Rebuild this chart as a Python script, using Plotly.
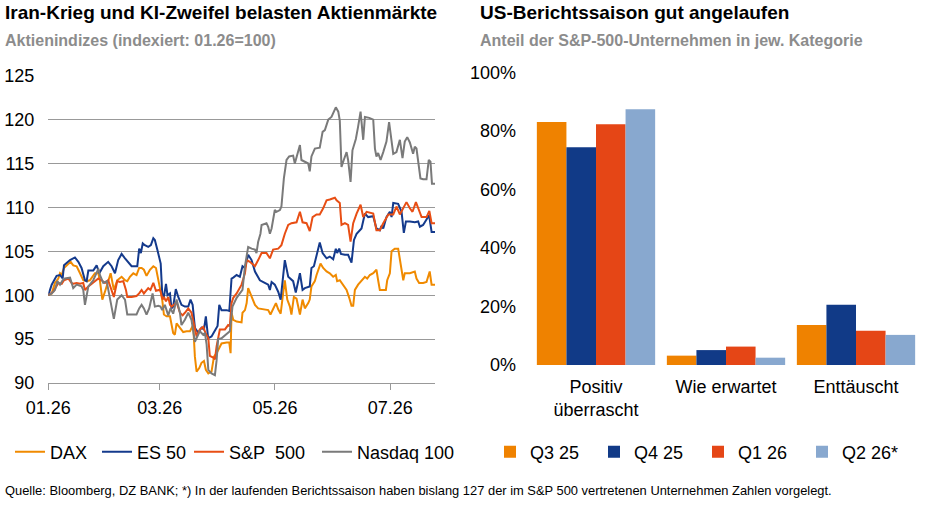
import pandas as pd
import plotly.graph_objects as go

W, H = 941, 506

# ---------------- data: equity indices (indexed 01.26 = 100) ----------------
BASE_DATE = "2026-01-01"   # days are counted from this date

dax_days = [0, 1.8, 3.5, 5.3, 6.2, 7.1, 8.3, 10.6, 11.8, 13.2, 15.0, 16.8, 18.5, 20.3, 22.0, 24.7, 26.5,
            27.3, 28.6, 30.0, 31.7, 33.0, 34.7, 36.5, 38.8, 40.6, 41.8, 43.2, 45.0, 46.7, 48.1, 49.4,
            50.6, 52.0, 53.8, 55.6, 57.0, 58.2, 59.4, 60.3, 61.2, 62.6, 64.4, 65.3, 66.1, 67.0, 67.9,
            69.3, 71.4, 73.2, 75.0, 76.7, 77.6, 78.5, 79.9, 81.1, 82.4, 83.4, 84.7, 86.4, 87.7, 89.1,
            91.7, 94.4, 95.8, 96.5, 97.0, 97.9, 99.7, 102.3, 102.8, 104.1, 105.0, 105.8, 107.6, 109.4,
            111.1, 113.8, 116.4, 117.6, 119.0, 120.5, 121.7, 123.0, 124.3, 125.2, 126.5, 127.9, 128.7,
            130.0, 131.4, 133.2, 134.6, 135.8, 137.6, 138.4, 139.3, 141.1, 142.0, 143.4, 144.1, 145.5,
            147.3, 149.0, 150.8, 152.2, 152.9, 154.3, 156.1, 157.9, 159.3, 160.5, 161.4, 162.3, 164.0,
            165.8, 167.6, 168.8, 170.2, 172.0, 173.7, 174.6, 175.5, 176.9, 178.7, 179.4, 180.8, 181.7,
            183.4, 185.2, 186.1, 187.9, 188.7, 191.4, 194.0, 194.9, 196.3, 198.4, 200.2, 201.9, 202.9,
            204.7]
dax_vals = [100.0, 100.2, 101.4, 101.9, 102.5, 102.3, 103.1, 103.6, 103.8, 103.4, 103.3, 102.5, 101.7,
            101.6, 101.7, 102.5, 102.5, 101.7, 99.5, 100.4, 101.6, 102.5, 100.6, 101.7, 102.1, 101.7,
            101.6, 102.1, 102.5, 102.3, 103.1, 103.1, 102.9, 102.2, 102.9, 103.3, 103.1, 101.7, 100.2,
            99.5, 97.8, 97.6, 97.6, 96.4, 95.7, 95.5, 96.8, 96.4, 95.8, 95.9, 95.9, 96.6, 93.0, 91.3,
            91.7, 92.3, 92.5, 91.5, 91.1, 91.3, 93.0, 93.4, 94.5, 94.6, 94.6, 93.4, 98.0, 97.2, 97.0,
            96.9, 98.0, 98.3, 99.1, 100.8, 99.8, 98.9, 98.5, 98.4, 98.3, 97.8, 98.5, 99.1, 98.4, 97.9,
            100.2, 101.7, 99.5, 98.7, 97.8, 99.8, 99.6, 97.8, 99.5, 98.5, 99.1, 99.5, 101.0, 101.6,
            102.3, 103.1, 103.6, 103.1, 102.7, 102.5, 102.1, 102.3, 101.6, 101.7, 101.2, 100.6, 99.7,
            98.8, 98.8, 100.6, 101.2, 101.6, 102.1, 101.9, 102.3, 102.5, 102.9, 101.7, 100.6, 100.6,
            100.6, 101.7, 102.5, 105.0, 105.3, 105.3, 104.0, 101.7, 102.5, 102.5, 102.7, 101.9, 101.4,
            101.4, 101.5, 102.7, 101.2, 101.2]

es50_days = [0, 1.8, 4.4, 6.2, 7.6, 8.3, 11.5, 14.1, 15.9, 17.6, 19.4, 20.3, 21.2, 23.8, 25.6, 27.0,
             29.1, 31.7, 33.5, 35.3, 37.0, 38.8, 40.6, 42.3, 44.1, 45.9, 47.1, 48.1, 49.0, 50.0, 51.1,
             52.9, 54.3, 55.6, 56.4, 57.7, 59.5, 60.3, 61.2, 62.3, 63.1, 64.4, 65.2, 66.1, 67.5, 68.8,
             70.5, 72.3, 74.1, 75.3, 76.4, 77.6, 79.4, 81.1, 82.4, 83.4, 84.6, 86.4, 88.2, 89.6, 90.5,
             91.7, 94.4, 95.8, 97.0, 97.9, 99.7, 101.4, 102.8, 104.1, 105.8, 107.6, 109.4, 112.0, 114.6,
             116.4, 117.3, 118.2, 119.9, 121.7, 123.0, 125.2, 127.0, 128.7, 129.6, 131.0, 133.2, 134.6,
             135.8, 138.4, 139.3, 140.6, 142.0, 143.7, 145.2, 147.3, 149.0, 150.8, 152.2, 152.9, 154.0,
             154.9, 157.0, 158.7, 160.5, 161.8, 163.2, 165.8, 167.6, 169.3, 172.0, 173.7, 175.5, 176.4,
             177.3, 179.0, 180.8, 181.7, 182.6, 185.2, 187.0, 188.2, 189.3, 191.4, 194.0, 195.8, 196.7,
             198.4, 201.6, 202.9, 204.7]
es50_vals = [100.0, 101.2, 102.2, 102.3, 101.9, 103.4, 104.0, 104.3, 103.8, 103.1, 101.7, 101.6, 102.8,
             102.8, 103.4, 102.5, 103.3, 103.8, 103.3, 102.5, 104.0, 104.7, 104.2, 103.8, 103.3, 103.3,
             103.3, 105.3, 104.8, 105.9, 105.7, 105.5, 105.7, 106.5, 106.3, 105.2, 103.6, 100.2, 99.8,
             101.3, 100.0, 100.2, 98.5, 98.7, 100.7, 99.8, 98.9, 98.7, 98.7, 99.5, 98.9, 96.3, 95.7,
             96.3, 96.1, 97.6, 95.1, 95.3, 95.9, 96.5, 98.9, 98.3, 98.3, 98.2, 101.9, 102.0, 102.3,
             102.1, 103.3, 103.1, 104.6, 104.0, 102.7, 101.7, 101.4, 101.2, 100.6, 101.5, 101.2, 100.4,
             99.5, 104.0, 102.1, 101.7, 101.6, 100.3, 102.5, 100.6, 100.8, 101.0, 103.1, 103.3, 104.6,
             106.0, 104.8, 104.2, 104.4, 104.1, 105.3, 104.8, 105.3, 104.7, 104.6, 104.6, 103.7, 106.3,
             107.0, 107.6, 109.3, 108.9, 109.0, 107.6, 107.4, 107.9, 107.6, 108.9, 109.5, 108.9, 110.5,
             110.4, 109.5, 107.1, 108.4, 108.4, 108.3, 108.4, 107.8, 108.0, 109.1, 107.2, 107.2]

sp500_days = [0, 2.6, 5.3, 7.1, 8.3, 10.6, 12.3, 13.2, 15.0, 16.8, 18.5, 19.4, 21.2, 23.8, 26.5, 28.2,
              30.0, 31.7, 33.5, 34.7, 36.5, 37.9, 39.7, 41.1, 41.8, 44.1, 46.7, 48.1, 49.4, 50.6, 52.9,
              54.1, 55.6, 57.0, 58.7, 59.4, 60.5, 61.2, 62.3, 63.5, 64.4, 65.3, 66.5, 67.9, 69.7, 71.1,
              72.3, 74.1, 75.8, 77.1, 78.5, 80.2, 82.0, 83.4, 84.7, 85.5, 87.3, 88.2, 89.1, 90.8, 93.5,
              95.2, 96.1, 97.0, 97.9, 99.7, 102.3, 104.1, 105.0, 106.7, 109.4, 111.1, 112.9, 115.5,
              117.3, 119.0, 121.7, 123.4, 125.2, 127.0, 128.7, 131.4, 133.2, 134.6, 136.7, 138.4, 139.9,
              142.0, 143.7, 145.5, 147.3, 149.0, 151.7, 152.6, 154.3, 155.2, 157.0, 158.7, 160.0, 161.4,
              163.2, 165.3, 166.7, 168.5, 172.0, 173.7, 175.5, 177.3, 180.0, 182.6, 184.3, 186.1, 187.9,
              189.6, 191.4, 192.8, 194.6, 195.8, 197.6, 200.2, 201.7, 202.9, 204.7]
sp500_vals = [100.0, 100.4, 101.4, 101.3, 101.7, 101.9, 101.4, 101.3, 101.4, 101.3, 101.4, 100.6, 101.0,
              101.4, 101.9, 101.7, 101.4, 101.7, 100.6, 99.8, 101.6, 101.5, 101.6, 100.6, 99.8, 99.8,
              99.9, 100.2, 100.6, 100.2, 100.8, 100.6, 101.4, 100.5, 100.6, 100.5, 99.5, 99.8, 99.3,
              99.8, 98.9, 98.7, 98.9, 99.2, 98.0, 97.7, 98.0, 98.5, 98.0, 96.8, 95.3, 96.1, 96.4, 95.6,
              95.1, 93.1, 92.9, 92.7, 94.2, 96.1, 96.1, 96.6, 96.5, 99.1, 99.7, 100.2, 101.2, 102.5,
              104.0, 103.8, 103.3, 104.0, 104.8, 104.8, 104.2, 105.2, 105.3, 105.7, 107.0, 108.0, 108.2,
              108.3, 109.5, 108.3, 108.2, 107.3, 108.9, 109.2, 109.2, 109.9, 110.8, 110.9, 111.1, 110.8,
              110.5, 108.0, 108.2, 108.0, 106.1, 108.2, 109.3, 110.3, 108.9, 109.5, 109.3, 107.4, 107.4,
              108.2, 109.2, 109.2, 110.1, 109.2, 109.9, 110.6, 109.9, 109.5, 110.6, 109.9, 108.9, 108.9,
              109.6, 108.2, 108.2]

ndx_days = [0, 1.8, 3.5, 4.8, 6.2, 7.6, 8.8, 11.5, 13.2, 15.0, 17.6, 18.5, 19.4, 21.2, 23.8, 26.5, 27.3,
            29.1, 30.9, 32.6, 34.7, 36.5, 38.8, 40.6, 41.8, 44.1, 46.7, 48.1, 49.4, 50.6, 52.0, 53.4,
            55.2, 56.4, 58.2, 59.4, 60.3, 61.7, 63.5, 64.7, 66.1, 67.9, 69.7, 70.5, 72.3, 74.1, 75.8,
            77.6, 78.8, 80.2, 82.0, 82.9, 83.8, 84.7, 86.4, 88.2, 89.1, 89.9, 91.7, 94.0, 96.1, 97.5,
            99.7, 101.4, 102.8, 104.1, 105.8, 107.6, 109.4, 110.2, 111.1, 112.3, 112.9, 115.5, 116.4,
            117.3, 118.2, 119.9, 120.8, 122.6, 123.4, 124.7, 126.1, 127.5, 129.6, 130.5, 131.4, 133.2,
            134.0, 135.8, 137.6, 138.4, 139.3, 141.1, 143.7, 145.2, 146.4, 148.2, 149.9, 152.2, 153.5,
            154.3, 155.2, 156.4, 157.9, 158.7, 160.0, 161.0, 162.8, 164.0, 165.3, 166.7, 167.6, 169.9,
            172.0, 172.9, 173.7, 174.6, 175.9, 177.3, 179.0, 180.4, 181.1, 182.6, 184.3, 186.1, 187.5,
            188.7, 190.0, 191.4, 193.1, 194.0, 194.9, 197.0, 198.4, 200.2, 201.4, 202.3, 203.1, 204.7]
ndx_vals = [100.0, 100.2, 100.6, 101.6, 101.2, 101.7, 101.9, 102.0, 100.8, 101.2, 101.0, 100.6, 98.9,
            101.0, 101.7, 103.0, 102.3, 101.4, 101.6, 99.8, 97.3, 99.5, 100.0, 99.5, 97.8, 97.8, 97.8,
            98.5, 98.9, 98.5, 97.8, 98.5, 100.2, 98.7, 98.8, 98.7, 98.3, 98.9, 97.7, 98.5, 97.9, 99.5,
            98.0, 96.6, 97.2, 98.0, 97.2, 94.7, 95.3, 95.9, 95.5, 95.7, 94.4, 91.5, 91.1, 90.9, 92.6,
            95.0, 95.1, 95.5, 95.9, 98.7, 99.7, 100.2, 100.6, 103.3, 105.5, 105.3, 105.2, 104.8, 106.1,
            107.0, 108.0, 108.2, 107.8, 107.0, 107.6, 109.7, 109.5, 109.7, 110.1, 113.3, 115.4, 115.8,
            115.9, 115.0, 115.8, 117.1, 115.4, 115.2, 115.0, 114.1, 115.8, 116.7, 116.8, 118.6, 118.8,
            120.0, 120.3, 121.4, 120.9, 119.9, 114.6, 115.4, 116.3, 115.4, 112.9, 116.5, 117.8, 119.2,
            120.9, 117.7, 120.3, 120.2, 120.0, 116.7, 115.8, 116.2, 115.4, 116.3, 117.5, 119.7, 118.4,
            116.1, 116.3, 117.7, 115.6, 117.5, 118.0, 117.4, 116.1, 116.9, 116.7, 113.3, 113.2, 113.2,
            115.4, 115.2, 112.7, 112.7]

x_range_days = [0, 204.7]
x_tick_dates = ["2026-01-01", "2026-03-01", "2026-05-01", "2026-07-01"]
y_ticks_idx = [90, 95, 100, 105, 110, 115, 120, 125]

# ---------------- data: US reporting season ----------------
categories = ["Positiv<br>überrascht", "Wie erwartet", "Enttäuscht"]
q3_25 = [83.1, 3.2, 13.7]
q4_25 = [74.5, 5.1, 20.6]
q1_26 = [82.4, 6.3, 11.7]
q2_26 = [87.5, 2.5, 10.3]
y_ticks_pct = [0, 20, 40, 60, 80, 100]
y_ticktext_pct = [f"{v}%" for v in y_ticks_pct]

# ---------------- styling ----------------
FONT = "Liberation Sans, Arial, sans-serif"
C_DAX, C_ES, C_SP, C_NDX = "#F08A00", "#143A8C", "#E84E14", "#7A7A7A"
C_Q3, C_Q4, C_Q1, C_Q2 = "#EF8200", "#113A87", "#E54616", "#88A8CF"
GRID = "#999999"


def px_x(p):
    return p / W


def px_y(p):
    return 1 - p / H


def to_dates(days):
    return pd.Timestamp(BASE_DATE) + pd.to_timedelta(days, unit="D")


fig = go.Figure()

for name, d, v, c, lw in [("DAX", dax_days, dax_vals, C_DAX, 42),
                          ("ES 50", es50_days, es50_vals, C_ES, 47),
                          ("S&P\u00a0\u00a0500", sp500_days, sp500_vals, C_SP, 83),
                          ("Nasdaq 100", ndx_days, ndx_vals, C_NDX, None)]:
    fig.add_trace(go.Scatter(x=to_dates(d), y=v, name=name, mode="lines",
                             line=dict(color=c, width=2), xaxis="x", yaxis="y",
                             legend="legend", legendwidth=lw, hoverinfo="skip"))

for name, vals, c in [("Q3 25", q3_25, C_Q3), ("Q4 25", q4_25, C_Q4),
                      ("Q1 26", q1_26, C_Q1), ("Q2 26*", q2_26, C_Q2)]:
    fig.add_trace(go.Bar(x=categories, y=vals, name=name, marker=dict(color=c, line=dict(width=0)),
                         xaxis="x2", yaxis="y2", legend="legend2", legendwidth=59,
                         hoverinfo="skip"))

xr = to_dates(x_range_days)

fig.update_layout(
    template="none",
    width=W, height=H, margin=dict(l=0, r=0, t=0, b=0, pad=0), autosize=False,
    paper_bgcolor="white", plot_bgcolor="white",
    font=dict(family=FONT, size=18, color="#000000"),
    barmode="group", bargap=0.09, bargroupgap=0,
    xaxis=dict(domain=[px_x(48.3), px_x(435)], anchor="y", type="date", automargin=False,
               range=[xr[0], xr[1]], tickvals=x_tick_dates, tickformat="%m.%y",
               showgrid=False, showline=True, linecolor=GRID, linewidth=1,
               ticks="outside", ticklen=6, tickcolor=GRID, tickwidth=1,
               ticklabelstandoff=2, zeroline=False),
    yaxis=dict(domain=[px_y(383), px_y(75.7)], anchor="x", range=[90, 125], automargin=False,
               tickvals=y_ticks_idx, showgrid=True, gridcolor=GRID, gridwidth=1,
               showline=False, zeroline=False, ticks="", ticklabelstandoff=13),
    xaxis2=dict(domain=[px_x(531), px_x(921)], anchor="y2", type="category", automargin=False,
                showgrid=False, showline=False, ticks="", ticklabelstandoff=9),
    yaxis2=dict(domain=[px_y(365), px_y(72.7)], anchor="x2", range=[0, 100], automargin=False,
                tickvals=y_ticks_pct, ticktext=y_ticktext_pct, showgrid=False, showline=False,
                zeroline=False, ticks="", ticklabelstandoff=14),
    legend=dict(orientation="h", x=px_x(10), y=px_y(452), xanchor="left", yanchor="middle",
                font=dict(size=18), itemwidth=30, bgcolor="rgba(0,0,0,0)"),
    legend2=dict(orientation="h", x=px_x(490), y=px_y(452), xanchor="left", yanchor="middle",
                 font=dict(size=18), itemwidth=30, bgcolor="rgba(0,0,0,0)"),
    showlegend=True,
)

annos = [
    ("<b>Iran-Krieg und KI-Zweifel belasten Aktienmärkte</b>", 3, 13, 19, "#000000"),
    ("<b>Aktienindizes (indexiert: 01.26=100)</b>", 3, 40.5, 16, "#8C8C8C"),
    ("<b>US-Berichtssaison gut angelaufen</b>", 478, 13, 19, "#000000"),
    ("<b>Anteil der S&P-500-Unternehmen in jew. Kategorie</b>", 478, 40.5, 16, "#8C8C8C"),
    ("Quelle: Bloomberg, DZ BANK; *) In der laufenden Berichtssaison haben bislang 127 der im "
     "S&P 500 vertretenen Unternehmen Zahlen vorgelegt.", 3, 490, 12.9, "#000000"),
]
for text, x, y, size, color in annos:
    fig.add_annotation(text=text, xref="paper", yref="paper",
                       x=px_x(x), y=px_y(y), xanchor="left", yanchor="middle", showarrow=False,
                       font=dict(family=FONT, size=size, color=color))

fig.write_html("out.html")
